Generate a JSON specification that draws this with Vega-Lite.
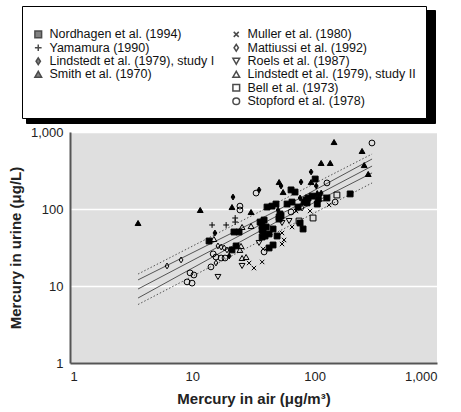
{
  "$schema": "https://vega.github.io/schema/vega-lite/v6.json",
  "width": 367,
  "height": 231,
  "autosize": {"type": "none"},
  "padding": {"left": 70, "top": 132, "right": 24, "bottom": 49},
  "background": "white",
  "config": {
    "view": {"fill": "#dfdfdf", "stroke": null},
    "font": "Liberation Sans",
    "axis": {
      "domainColor": "#555555",
      "domainWidth": 2,
      "ticks": false,
      "labelFont": "Liberation Sans",
      "labelFontSize": 13,
      "labelColor": "#222222",
      "titleFont": "Liberation Sans",
      "titleFontSize": 15,
      "titleFontWeight": "bold",
      "titleColor": "#222222"
    }
  },
  "datasets": {
    "pts": [
      {"study": "Smith et al. (1970)", "air": 3.6, "urine": 65.8},
      {"study": "Smith et al. (1970)", "air": 11.6, "urine": 97.1},
      {"study": "Smith et al. (1970)", "air": 21.1, "urine": 106},
      {"study": "Smith et al. (1970)", "air": 30.2, "urine": 91.4},
      {"study": "Smith et al. (1970)", "air": 51.2, "urine": 224},
      {"study": "Smith et al. (1970)", "air": 55.2, "urine": 166},
      {"study": "Smith et al. (1970)", "air": 93.5, "urine": 224},
      {"study": "Smith et al. (1970)", "air": 105, "urine": 161},
      {"study": "Smith et al. (1970)", "air": 113, "urine": 396},
      {"study": "Smith et al. (1970)", "air": 134, "urine": 396},
      {"study": "Smith et al. (1970)", "air": 144, "urine": 741},
      {"study": "Smith et al. (1970)", "air": 244, "urine": 567},
      {"study": "Smith et al. (1970)", "air": 254, "urine": 372},
      {"study": "Smith et al. (1970)", "air": 274, "urine": 285},
      {"study": "Lindstedt et al. (1979), study I", "air": 21.5, "urine": 143},
      {"study": "Lindstedt et al. (1979), study I", "air": 15.3, "urine": 48.8},
      {"study": "Lindstedt et al. (1979), study I", "air": 20.0, "urine": 24.5},
      {"study": "Lindstedt et al. (1979), study I", "air": 35.1, "urine": 177},
      {"study": "Lindstedt et al. (1979), study I", "air": 53.1, "urine": 199},
      {"study": "Lindstedt et al. (1979), study I", "air": 77.4, "urine": 224},
      {"study": "Lindstedt et al. (1979), study I", "air": 93.5, "urine": 303},
      {"study": "Lindstedt et al. (1979), study I", "air": 103, "urine": 199},
      {"study": "Lindstedt et al. (1979), study I", "air": 76.0, "urine": 139},
      {"study": "Lindstedt et al. (1979), study I", "air": 50.2, "urine": 97.1},
      {"study": "Lindstedt et al. (1979), study I", "air": 113, "urine": 161},
      {"study": "Yamamura (1990)", "air": 14.5, "urine": 62.0},
      {"study": "Yamamura (1990)", "air": 18.9, "urine": 62.0},
      {"study": "Yamamura (1990)", "air": 22.4, "urine": 76.4},
      {"study": "Yamamura (1990)", "air": 22.4, "urine": 67.7},
      {"study": "Muller et al. (1980)", "air": 29.1, "urine": 19.9},
      {"study": "Muller et al. (1980)", "air": 31.9, "urine": 17.1},
      {"study": "Muller et al. (1980)", "air": 37.2, "urine": 20.5},
      {"study": "Muller et al. (1980)", "air": 37.9, "urine": 30.3},
      {"study": "Muller et al. (1980)", "air": 54.1, "urine": 35.1},
      {"study": "Muller et al. (1980)", "air": 56.2, "urine": 39.6},
      {"study": "Muller et al. (1980)", "air": 54.1, "urine": 48.8},
      {"study": "Muller et al. (1980)", "air": 65.3, "urine": 58.4},
      {"study": "Muller et al. (1980)", "air": 70.4, "urine": 94.2},
      {"study": "Muller et al. (1980)", "air": 91.7, "urine": 94.2},
      {"study": "Muller et al. (1980)", "air": 131, "urine": 113},
      {"study": "Mattiussi et al. (1992)", "air": 6.21, "urine": 18.2},
      {"study": "Mattiussi et al. (1992)", "air": 8.09, "urine": 21.8},
      {"study": "Mattiussi et al. (1992)", "air": 16.2, "urine": 33.1},
      {"study": "Mattiussi et al. (1992)", "air": 17.2, "urine": 32.1},
      {"study": "Mattiussi et al. (1992)", "air": 18.2, "urine": 31.2},
      {"study": "Mattiussi et al. (1992)", "air": 19.2, "urine": 29.4},
      {"study": "Mattiussi et al. (1992)", "air": 15.6, "urine": 19.9},
      {"study": "Mattiussi et al. (1992)", "air": 78.9, "urine": 103},
      {"study": "Roels et al. (1987)", "air": 16.2, "urine": 13.1},
      {"study": "Roels et al. (1987)", "air": 25.5, "urine": 18.2},
      {"study": "Roels et al. (1987)", "air": 35.1, "urine": 36.2},
      {"study": "Roels et al. (1987)", "air": 54.1, "urine": 65.8},
      {"study": "Roels et al. (1987)", "air": 61.8, "urine": 69.8},
      {"study": "Lindstedt et al. (1979), study II", "air": 15.0, "urine": 40.8},
      {"study": "Lindstedt et al. (1979), study II", "air": 25.5, "urine": 58.4},
      {"study": "Lindstedt et al. (1979), study II", "air": 25.0, "urine": 33.1},
      {"study": "Lindstedt et al. (1979), study II", "air": 24.5, "urine": 29.4},
      {"study": "Lindstedt et al. (1979), study II", "air": 25.5, "urine": 23.1},
      {"study": "Lindstedt et al. (1979), study II", "air": 27.5, "urine": 23.8},
      {"study": "Lindstedt et al. (1979), study II", "air": 30.2, "urine": 60.1},
      {"study": "Bell et al. (1973)", "air": 152, "urine": 152},
      {"study": "Bell et al. (1973)", "air": 113, "urine": 139},
      {"study": "Bell et al. (1973)", "air": 97.0, "urine": 76.4},
      {"study": "Bell et al. (1973)", "air": 74.5, "urine": 69.8},
      {"study": "Stopford et al. (1978)", "air": 294, "urine": 720},
      {"study": "Stopford et al. (1978)", "air": 126, "urine": 218},
      {"study": "Stopford et al. (1978)", "air": 33.2, "urine": 161},
      {"study": "Stopford et al. (1978)", "air": 24.5, "urine": 109},
      {"study": "Stopford et al. (1978)", "air": 24.5, "urine": 97.1},
      {"study": "Stopford et al. (1978)", "air": 147, "urine": 123},
      {"study": "Stopford et al. (1978)", "air": 64.1, "urine": 91.4},
      {"study": "Stopford et al. (1978)", "air": 14.8, "urine": 26.1},
      {"study": "Stopford et al. (1978)", "air": 15.6, "urine": 23.8},
      {"study": "Stopford et al. (1978)", "air": 17.2, "urine": 23.1},
      {"study": "Stopford et al. (1978)", "air": 18.5, "urine": 23.1},
      {"study": "Stopford et al. (1978)", "air": 14.2, "urine": 17.7},
      {"study": "Stopford et al. (1978)", "air": 9.58, "urine": 14.8},
      {"study": "Stopford et al. (1978)", "air": 10.3, "urine": 13.9},
      {"study": "Stopford et al. (1978)", "air": 9.05, "urine": 11.3},
      {"study": "Stopford et al. (1978)", "air": 9.95, "urine": 10.9},
      {"study": "Stopford et al. (1978)", "air": 38.6, "urine": 27.7},
      {"study": "Nordhagen et al. (1994)", "air": 13.7, "urine": 38.4},
      {"study": "Nordhagen et al. (1994)", "air": 21.9, "urine": 50.3},
      {"study": "Nordhagen et al. (1994)", "air": 24.1, "urine": 50.3},
      {"study": "Nordhagen et al. (1994)", "air": 22.8, "urine": 33.1},
      {"study": "Nordhagen et al. (1994)", "air": 21.1, "urine": 29.4},
      {"study": "Nordhagen et al. (1994)", "air": 35.8, "urine": 67.7},
      {"study": "Nordhagen et al. (1994)", "air": 38.6, "urine": 71.9},
      {"study": "Nordhagen et al. (1994)", "air": 37.2, "urine": 60.1},
      {"study": "Nordhagen et al. (1994)", "air": 40.1, "urine": 58.4},
      {"study": "Nordhagen et al. (1994)", "air": 37.2, "urine": 53.4},
      {"study": "Nordhagen et al. (1994)", "air": 37.9, "urine": 51.8},
      {"study": "Nordhagen et al. (1994)", "air": 45.7, "urine": 55.0},
      {"study": "Nordhagen et al. (1994)", "air": 42.4, "urine": 47.4},
      {"study": "Nordhagen et al. (1994)", "air": 49.3, "urine": 44.6},
      {"study": "Nordhagen et al. (1994)", "air": 37.2, "urine": 43.3},
      {"study": "Nordhagen et al. (1994)", "air": 39.3, "urine": 44.6},
      {"study": "Nordhagen et al. (1994)", "air": 45.7, "urine": 34.1},
      {"study": "Nordhagen et al. (1994)", "air": 42.4, "urine": 31.2},
      {"study": "Nordhagen et al. (1994)", "air": 52.1, "urine": 86.1},
      {"study": "Nordhagen et al. (1994)", "air": 51.2, "urine": 78.7},
      {"study": "Nordhagen et al. (1994)", "air": 53.1, "urine": 81.1},
      {"study": "Nordhagen et al. (1994)", "air": 51.2, "urine": 74.1},
      {"study": "Nordhagen et al. (1994)", "air": 40.8, "urine": 106},
      {"study": "Nordhagen et al. (1994)", "air": 44.8, "urine": 109},
      {"study": "Nordhagen et al. (1994)", "air": 48.3, "urine": 116},
      {"study": "Nordhagen et al. (1994)", "air": 59.5, "urine": 116},
      {"study": "Nordhagen et al. (1994)", "air": 65.3, "urine": 123},
      {"study": "Nordhagen et al. (1994)", "air": 64.1, "urine": 177},
      {"study": "Nordhagen et al. (1994)", "air": 69.1, "urine": 166},
      {"study": "Nordhagen et al. (1994)", "air": 73.1, "urine": 106},
      {"study": "Nordhagen et al. (1994)", "air": 76.0, "urine": 65.8},
      {"study": "Nordhagen et al. (1994)", "air": 80.4, "urine": 55.0},
      {"study": "Nordhagen et al. (1994)", "air": 88.3, "urine": 139},
      {"study": "Nordhagen et al. (1994)", "air": 85.1, "urine": 131},
      {"study": "Nordhagen et al. (1994)", "air": 81.9, "urine": 123},
      {"study": "Nordhagen et al. (1994)", "air": 86.7, "urine": 120},
      {"study": "Nordhagen et al. (1994)", "air": 105, "urine": 116},
      {"study": "Nordhagen et al. (1994)", "air": 101, "urine": 245},
      {"study": "Nordhagen et al. (1994)", "air": 126, "urine": 139},
      {"study": "Nordhagen et al. (1994)", "air": 195, "urine": 157},
      {"study": "Nordhagen et al. (1994)", "air": 95.3, "urine": 147},
      {"study": "Nordhagen et al. (1994)", "air": 107, "urine": 135}
    ],
    "lines": [
      {"band": "fit", "kind": "solid", "air": 3.6, "urine": 9.14},
      {"band": "fit", "kind": "solid", "air": 294.6, "urine": 361},
      {"band": "ci_hi", "kind": "solid", "air": 3.6, "urine": 12.0},
      {"band": "ci_hi", "kind": "solid", "air": 50.2, "urine": 97.1},
      {"band": "ci_hi", "kind": "solid", "air": 294.6, "urine": 446},
      {"band": "ci_lo", "kind": "solid", "air": 3.6, "urine": 6.98},
      {"band": "ci_lo", "kind": "solid", "air": 50.2, "urine": 69.8},
      {"band": "ci_lo", "kind": "solid", "air": 294.6, "urine": 294},
      {"band": "pi_hi", "kind": "dotted", "air": 3.6, "urine": 14.3},
      {"band": "pi_hi", "kind": "dotted", "air": 294.6, "urine": 518},
      {"band": "pi_lo", "kind": "dotted", "air": 3.6, "urine": 5.75},
      {"band": "pi_lo", "kind": "dotted", "air": 294.6, "urine": 218}
    ]
  },
  "layer": [
    {
      "data": {"name": "lines"},
      "transform": [{"filter": "datum.kind == 'solid'"}],
      "mark": {"type": "line", "color": "#444444", "strokeWidth": 0.9},
      "encoding": {
        "x": {"field": "air", "type": "quantitative", "scale": {"type": "log", "domain": [1, 1000], "nice": false}},
        "y": {"field": "urine", "type": "quantitative", "scale": {"type": "log", "domain": [1, 1000], "nice": false}},
        "detail": {"field": "band"}
      }
    },
    {
      "data": {"name": "lines"},
      "transform": [{"filter": "datum.kind == 'dotted'"}],
      "mark": {"type": "line", "color": "#444444", "strokeWidth": 0.9, "strokeDash": [1.5, 2]},
      "encoding": {
        "x": {"field": "air", "type": "quantitative"},
        "y": {"field": "urine", "type": "quantitative"},
        "detail": {"field": "band"}
      }
    },
    {
      "data": {"name": "pts"},
      "mark": {"type": "point", "strokeWidth": 1, "size": 34},
      "encoding": {
        "x": {
          "field": "air", "type": "quantitative",
          "axis": {"values": [1, 10, 100, 1000], "format": ",", "grid": false, "labelPadding": 7, "titlePadding": 8, "title": "Mercury in air (μg/m³)"}
        },
        "y": {
          "field": "urine", "type": "quantitative",
          "axis": {"values": [1, 10, 100, 1000], "format": ",", "grid": true, "gridColor": "white", "gridWidth": 1.3, "labelPadding": 7, "titlePadding": 7, "title": "Mercury in urine (μg/L)"}
        },
        "shape": {
          "field": "study", "type": "nominal",
          "scale": {
            "domain": ["Nordhagen et al. (1994)", "Yamamura (1990)", "Lindstedt et al. (1979), study I", "Smith et al. (1970)", " ", "  ", "Muller et al. (1980)", "Mattiussi et al. (1992)", "Roels et al. (1987)", "Lindstedt et al. (1979), study II", "Bell et al. (1973)", "Stopford et al. (1978)"],
            "range": ["square", "M-1,0H1M0,-1V1", "M0,-1L0.65,0L0,1L-0.65,0Z", "triangle-up", "circle", "circle", "M-0.75,-0.75L0.75,0.75M0.75,-0.75L-0.75,0.75", "M0,-1L0.65,0L0,1L-0.65,0Z", "triangle-down", "triangle-up", "square", "circle"]
          },
          "legend": {"orient": "none", "legendX": -48, "legendY": -126, "zindex": 2, "columns": 2, "columnPadding": 14, "rowPadding": -0.5, "symbolSize": 45, "labelFont": "Liberation Sans", "labelFontSize": 12.5, "labelOffset": 5, "labelColor": "#111111", "labelLimit": 400, "padding": 10, "strokeColor": "black", "fillColor": "white", "title": " ", "titleFontSize": 9, "titlePadding": 3}
        },
        "fill": {
          "field": "study", "type": "nominal",
          "scale": {
            "domain": ["Nordhagen et al. (1994)", "Yamamura (1990)", "Lindstedt et al. (1979), study I", "Smith et al. (1970)", " ", "  ", "Muller et al. (1980)", "Mattiussi et al. (1992)", "Roels et al. (1987)", "Lindstedt et al. (1979), study II", "Bell et al. (1973)", "Stopford et al. (1978)"],
            "range": ["black", "transparent", "black", "black", "transparent", "transparent", "transparent", "transparent", "transparent", "transparent", "transparent", "transparent"]
          },
          "legend": {"orient": "none", "legendX": -48, "legendY": -126, "zindex": 2, "columns": 2, "columnPadding": 14, "rowPadding": -0.5, "symbolSize": 45, "labelFont": "Liberation Sans", "labelFontSize": 12.5, "labelOffset": 5, "labelColor": "#111111", "labelLimit": 400, "padding": 10, "strokeColor": "black", "fillColor": "white", "title": " ", "titleFontSize": 9, "titlePadding": 3}
        },
        "stroke": {
          "field": "study", "type": "nominal",
          "scale": {
            "domain": ["Nordhagen et al. (1994)", "Yamamura (1990)", "Lindstedt et al. (1979), study I", "Smith et al. (1970)", " ", "  ", "Muller et al. (1980)", "Mattiussi et al. (1992)", "Roels et al. (1987)", "Lindstedt et al. (1979), study II", "Bell et al. (1973)", "Stopford et al. (1978)"],
            "range": ["black", "black", "black", "black", "transparent", "transparent", "black", "black", "black", "black", "black", "black"]
          },
          "legend": {"orient": "none", "legendX": -48, "legendY": -126, "zindex": 2, "columns": 2, "columnPadding": 14, "rowPadding": -0.5, "symbolSize": 45, "labelFont": "Liberation Sans", "labelFontSize": 12.5, "labelOffset": 5, "labelColor": "#111111", "labelLimit": 400, "padding": 10, "strokeColor": "black", "fillColor": "white", "title": " ", "titleFontSize": 9, "titlePadding": 3}
        },
        "opacity": {
          "field": "study", "type": "ordinal",
          "scale": {
            "domain": ["Nordhagen et al. (1994)", "Yamamura (1990)", "Lindstedt et al. (1979), study I", "Smith et al. (1970)", "   ", "    ", "Muller et al. (1980)", "Mattiussi et al. (1992)", "Roels et al. (1987)", "Lindstedt et al. (1979), study II", "Bell et al. (1973)", "Stopford et al. (1978)"],
            "range": [1, 1, 1, 1, 1, 1, 1, 1, 1, 1, 1, 1]
          },
          "legend": {"orient": "none", "legendX": -44, "legendY": -122, "zindex": 1, "title": null, "columns": 2, "columnPadding": 340, "rowPadding": -0.5, "symbolSize": 45, "symbolFillColor": "black", "symbolStrokeColor": "black", "labelFontSize": 12.5, "labelOffset": 5, "labelExpr": "''", "padding": 16, "strokeColor": "black", "fillColor": "black"}
        }
      }
    }
  ]
}
